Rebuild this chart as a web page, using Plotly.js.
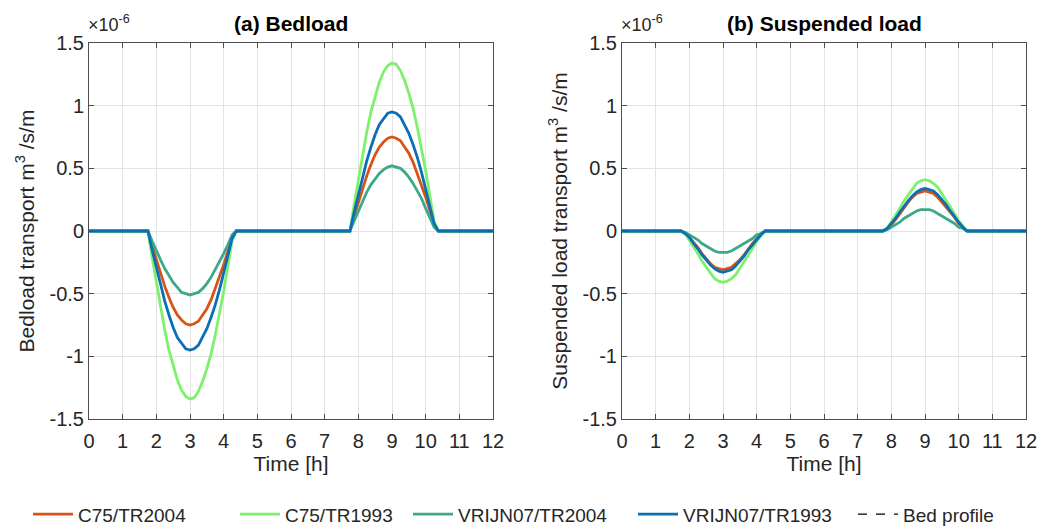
<!DOCTYPE html>
<html>
<head>
<meta charset="utf-8">
<script src="https://cdn.plot.ly/plotly-3.0.1.min.js"></script>
<style>html,body{margin:0;padding:0;background:#fff;}#chart{width:1041px;height:527px;}</style>
</head>
<body>
<div id="chart"></div>
<script>
// Time [h]
var time = [0,
  1.75,1.875,2,2.125,2.25,2.375,2.5,2.625,2.75,2.875,3,3.125,3.25,3.375,3.5,3.625,3.75,3.875,4,4.125,4.25,4.375,
  7.75,7.875,8,8.125,8.25,8.375,8.5,8.625,8.75,8.875,9,9.125,9.25,9.375,9.5,9.625,9.75,9.875,10,10.125,10.25,10.375,
  12];

// Bedload transport (x 1e-6 m3/s/m)
var bedC75TR2004 = [0,
  0,-0.12,-0.23,-0.34,-0.44,-0.53,-0.61,-0.67,-0.71,-0.74,-0.75,-0.74,-0.72,-0.67,-0.62,-0.55,-0.46,-0.37,-0.27,-0.16,-0.05,0,
  0,0.12,0.23,0.34,0.44,0.53,0.61,0.67,0.71,0.74,0.75,0.74,0.72,0.67,0.62,0.55,0.46,0.37,0.27,0.16,0.05,0,
  0];
var bedC75TR1993 = [0,
  0,-0.21,-0.41,-0.61,-0.79,-0.95,-1.08,-1.19,-1.27,-1.32,-1.34,-1.33,-1.28,-1.20,-1.10,-0.98,-0.83,-0.66,-0.48,-0.28,-0.08,0,
  0,0.21,0.41,0.61,0.79,0.95,1.08,1.19,1.27,1.32,1.34,1.33,1.28,1.20,1.10,0.98,0.83,0.66,0.48,0.28,0.08,0,
  0];
var bedVRIJN07TR2004 = [0,
  0,-0.08,-0.16,-0.23,-0.30,-0.36,-0.41,-0.45,-0.49,-0.50,-0.51,-0.50,-0.49,-0.46,-0.42,-0.37,-0.31,-0.25,-0.18,-0.11,-0.03,0,
  0,0.08,0.16,0.24,0.31,0.37,0.42,0.46,0.49,0.51,0.52,0.51,0.50,0.47,0.43,0.38,0.32,0.26,0.18,0.11,0.03,0,
  0];
var bedVRIJN07TR1993 = [0,
  0,-0.15,-0.29,-0.43,-0.56,-0.67,-0.77,-0.85,-0.90,-0.94,-0.95,-0.94,-0.91,-0.85,-0.78,-0.69,-0.59,-0.47,-0.34,-0.20,-0.06,0,
  0,0.15,0.29,0.43,0.56,0.67,0.77,0.85,0.90,0.94,0.95,0.94,0.91,0.85,0.78,0.69,0.59,0.47,0.34,0.20,0.06,0,
  0];

// Suspended load transport (x 1e-6 m3/s/m)
var susC75TR2004 = [0,
  0,-0.02,-0.05,-0.09,-0.13,-0.18,-0.22,-0.26,-0.29,-0.30,-0.31,-0.30,-0.29,-0.26,-0.23,-0.19,-0.14,-0.10,-0.06,-0.03,0,0,
  0,0.02,0.05,0.09,0.14,0.18,0.23,0.27,0.30,0.31,0.32,0.31,0.30,0.27,0.23,0.19,0.15,0.11,0.06,0.03,0,0,
  0];
var susC75TR1993 = [0,
  0,-0.02,-0.07,-0.12,-0.18,-0.24,-0.29,-0.34,-0.38,-0.40,-0.41,-0.40,-0.38,-0.35,-0.30,-0.25,-0.19,-0.14,-0.08,-0.04,0,0,
  0,0.02,0.07,0.12,0.18,0.24,0.29,0.34,0.38,0.40,0.41,0.40,0.38,0.35,0.30,0.25,0.19,0.14,0.08,0.04,0,0,
  0];
var susVRIJN07TR2004 = [0,
  0,-0.01,-0.03,-0.05,-0.07,-0.10,-0.12,-0.14,-0.16,-0.17,-0.17,-0.17,-0.16,-0.14,-0.12,-0.10,-0.08,-0.06,-0.03,-0.02,0,0,
  0,0.01,0.03,0.05,0.07,0.10,0.12,0.14,0.16,0.17,0.17,0.17,0.16,0.14,0.12,0.10,0.08,0.06,0.03,0.02,0,0,
  0];
var susVRIJN07TR1993 = [0,
  0,-0.02,-0.05,-0.10,-0.14,-0.19,-0.23,-0.27,-0.30,-0.32,-0.33,-0.32,-0.31,-0.28,-0.24,-0.20,-0.15,-0.11,-0.07,-0.03,0,0,
  0,0.02,0.06,0.10,0.15,0.20,0.24,0.28,0.31,0.33,0.34,0.33,0.32,0.29,0.25,0.21,0.16,0.11,0.07,0.03,0,0,
  0];

var seriesNames = ["C75/TR2004","C75/TR1993","VRIJN07/TR2004","VRIJN07/TR1993","Bed profile"];
var xTicks = [0,1,2,3,4,5,6,7,8,9,10,11,12];
var xTickText = ["0","1","2","3","4","5","6","7","8","9","10","11","12"];
var yTicks = [-1.5,-1,-0.5,0,0.5,1,1.5];
var yTickText = ["-1.5","-1","-0.5","0","0.5","1","1.5"];

var colors = ["#D95319","#7DF06C","#3BA98C","#0B6FB5"];
var FONT = "Liberation Sans, Arial, Helvetica, sans-serif";
var TXT = "#262626";
var legendIds = ["legend","legend2","legend3","legend4","legend5"];
var legendX = [28, 235, 408, 633, 853];

var bedSeries = [bedC75TR2004, bedC75TR1993, bedVRIJN07TR2004, bedVRIJN07TR1993];
var susSeries = [susC75TR2004, susC75TR1993, susVRIJN07TR2004, susVRIJN07TR1993];

var traces = [];
for (var i = 0; i < 4; i++) {
  traces.push({x: time, y: bedSeries[i], type: "scatter", mode: "lines", name: seriesNames[i],
    line: {color: colors[i], width: 2.8}, xaxis: "x", yaxis: "y", legend: legendIds[i], showlegend: true});
}
for (var i = 0; i < 4; i++) {
  traces.push({x: time, y: susSeries[i], type: "scatter", mode: "lines", name: seriesNames[i],
    line: {color: colors[i], width: 2.8}, xaxis: "x2", yaxis: "y2", showlegend: false});
}
traces.push({x: [null], y: [null], type: "scatter", mode: "lines", name: seriesNames[4],
  line: {color: "#000000", width: 1.2, dash: "dash"}, xaxis: "x", yaxis: "y", legend: legendIds[4], showlegend: true});

function xax(domain, anchor) {
  return {domain: domain, anchor: anchor, range: [0, 12], tickvals: xTicks, ticktext: xTickText,
    showgrid: true, gridcolor: "#E3E3E3", gridwidth: 1, zeroline: false,
    showline: true, linecolor: "#4D4D4D", linewidth: 1, mirror: "ticks",
    ticks: "inside", ticklen: 5, tickcolor: "#4D4D4D", ticklabelstandoff: 4,
    tickfont: {family: FONT, size: 20, color: TXT},
    title: {text: "Time [h]", font: {family: FONT, size: 21, color: TXT}, standoff: 4}};
}
function yax(domain, anchor, label) {
  return {domain: domain, anchor: anchor, range: [-1.5, 1.5], tickvals: yTicks, ticktext: yTickText,
    showgrid: true, gridcolor: "#E3E3E3", gridwidth: 1, zeroline: false,
    showline: true, linecolor: "#4D4D4D", linewidth: 1, mirror: "ticks",
    ticks: "inside", ticklen: 5, tickcolor: "#4D4D4D",
    tickfont: {family: FONT, size: 20, color: TXT},
    title: {text: label, font: {family: FONT, size: 21, color: TXT}, standoff: 9}};
}
function leg(px) {
  return {orientation: "h", x: px/1041, xanchor: "left", y: -0.012, yanchor: "bottom",
    font: {family: FONT, size: 19, color: TXT}, itemwidth: 40, bgcolor: "rgba(0,0,0,0)"};
}

var yDom = [1 - 419/527, 1 - 43/527];
var layout = {
  width: 1041, height: 527,
  margin: {l: 0, r: 0, t: 0, b: 0, autoexpand: false},
  paper_bgcolor: "#ffffff", plot_bgcolor: "#ffffff",
  showlegend: true,
  xaxis: xax([89/1041, 493/1041], "y"),
  yaxis: yax(yDom, "x", "Bedload transport m<sup>3</sup> /s/m"),
  xaxis2: xax([622/1041, 1026/1041], "y2"),
  yaxis2: yax(yDom, "x2", "Suspended load transport m<sup>3</sup> /s/m"),
  annotations: [
    {text: "<b>(a) Bedload</b>", xref: "paper", yref: "paper", x: 291/1041, y: 1 - 23/527,
      xanchor: "center", yanchor: "middle", showarrow: false, font: {family: FONT, size: 21, color: "#000"}},
    {text: "<b>(b) Suspended load</b>", xref: "paper", yref: "paper", x: 824/1041, y: 1 - 23/527,
      xanchor: "center", yanchor: "middle", showarrow: false, font: {family: FONT, size: 21, color: "#000"}},
    {text: "\u00d710<sup>-6</sup>", xref: "paper", yref: "paper", x: 86/1041, y: 1 - 24/527,
      xanchor: "left", yanchor: "middle", showarrow: false, font: {family: FONT, size: 18, color: TXT}},
    {text: "\u00d710<sup>-6</sup>", xref: "paper", yref: "paper", x: 619/1041, y: 1 - 24/527,
      xanchor: "left", yanchor: "middle", showarrow: false, font: {family: FONT, size: 18, color: TXT}}
  ]
};
for (var k = 0; k < legendIds.length; k++) layout[legendIds[k]] = leg(legendX[k]);

Plotly.newPlot("chart", traces, layout, {displayModeBar: false, staticPlot: true});
</script>
</body>
</html>
